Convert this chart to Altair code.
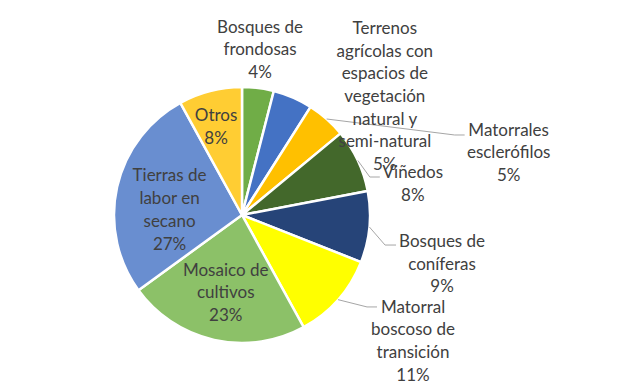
import math
import altair as alt
import pandas as pd

# ---- data ----
categories = [
    "Bosques de frondosas",
    "Terrenos agrícolas con espacios de vegetación natural y semi-natural",
    "Matorrales esclerófilos",
    "Viñedos",
    "Bosques de coníferas",
    "Matorral boscoso de transición",
    "Mosaico de cultivos",
    "Tierras de labor en secano",
    "Otros",
]
percent = [4, 5, 5, 8, 9, 11, 23, 27, 8]
colors = ["#70AD47", "#4472C4", "#FFC000", "#43682B", "#264478",
          "#FFFF00", "#8CC168", "#698ED0", "#FFCD33"]
label_wrap = [
    ["Bosques de", "frondosas"],
    ["Terrenos", "agrícolas con", "espacios de", "vegetación", "natural y", "semi-natural"],
    ["Matorrales", "esclerófilos"],
    ["Viñedos"],
    ["Bosques de", "coníferas"],
    ["Matorral", "boscoso de", "transición"],
    ["Mosaico de", "cultivos"],
    ["Tierras de", "labor en", "secano"],
    ["Otros"],
]

# ---- layout (pixels, view coordinates) ----
W, H = 607, 373
CX, CY, R = 234, 207, 128
FONT = "Lato"
FS = 17
LH = 22.7
TXT = "#404040"
# per label: radius factor for anchor, dx, dy of text block centre
label_layout = [
    (1.0, 2, -38.5),
    (1.0, 92, -1.5),
    (1.0, 182, 33.5),
    (1.0, 55, 23),
    (1.0, 72.6, 36.5),
    (1.0, 75, 41),
    (0.62, 1, 0),
    (0.58, 0, 10.7),
    (0.72, -3, 1),
]
# leader lines: index -> (elbow dx, elbow dy, horizontal length)
leaders = {2: (128, 16, 10), 3: (12, 16.5, 10), 4: (15.6, 18, 11), 5: (29, 7.3, 10)}

df = pd.DataFrame({"cat": categories, "value": percent, "idx": range(len(categories))})

cum = 0
rows_txt, rows_lead = [], []
for i, v in enumerate(percent):
    mid = (cum + v / 2) / sum(percent) * 2 * math.pi
    cum += v
    rf, dx, dy = label_layout[i]
    ax = CX + R * rf * math.sin(mid)
    ay = CY - R * rf * math.cos(mid)
    lines = label_wrap[i] + [f"{v}%"]
    # y of the first line so that the block is centred on the anchor
    rows_txt.append({"cat": categories[i], "x": ax + dx,
                     "y": ay + dy - (len(lines) - 1) / 2 * LH + 1,
                     "txt": lines})
    if i in leaders:
        ex, ey, ln = leaders[i]
        p0 = (CX + R * math.sin(mid), CY - R * math.cos(mid))
        p1 = (p0[0] + ex, p0[1] + ey)
        p2 = (p1[0] + ln, p1[1])
        for k, p in enumerate([p0, p1, p2]):
            rows_lead.append({"cat": categories[i], "k": k, "x": p[0], "y": p[1]})

df_txt = pd.DataFrame(rows_txt)
df_lead = pd.DataFrame(rows_lead)

pie = alt.Chart(df).mark_arc(outerRadius=R, stroke="white", strokeWidth=2.5).encode(
    theta=alt.Theta("value:Q", stack=True),
    color=alt.Color("cat:N", scale=alt.Scale(domain=categories, range=colors), legend=None),
    order=alt.Order("idx:Q"),
    x=alt.value(CX),
    y=alt.value(CY),
)

lead = alt.Chart(df_lead).mark_line(color="#A6A6A6", strokeWidth=1).encode(
    x=alt.X("x:Q", scale=None, axis=None),
    y=alt.Y("y:Q", scale=None, axis=None),
    detail="cat:N",
    order="k:Q",
)

text = alt.Chart(df_txt).mark_text(
    font=FONT, fontSize=FS, color=TXT, align="center", baseline="middle", lineHeight=LH
).encode(
    x=alt.X("x:Q", scale=None, axis=None),
    y=alt.Y("y:Q", scale=None, axis=None),
    text="txt",
)

chart = alt.layer(pie, lead, text).properties(
    width=W, height=H, padding=0, autosize=alt.AutoSizeParams(type="none")
).configure_view(stroke=None)

chart.save("out.html", embed_options={"renderer": "svg", "actions": False})
